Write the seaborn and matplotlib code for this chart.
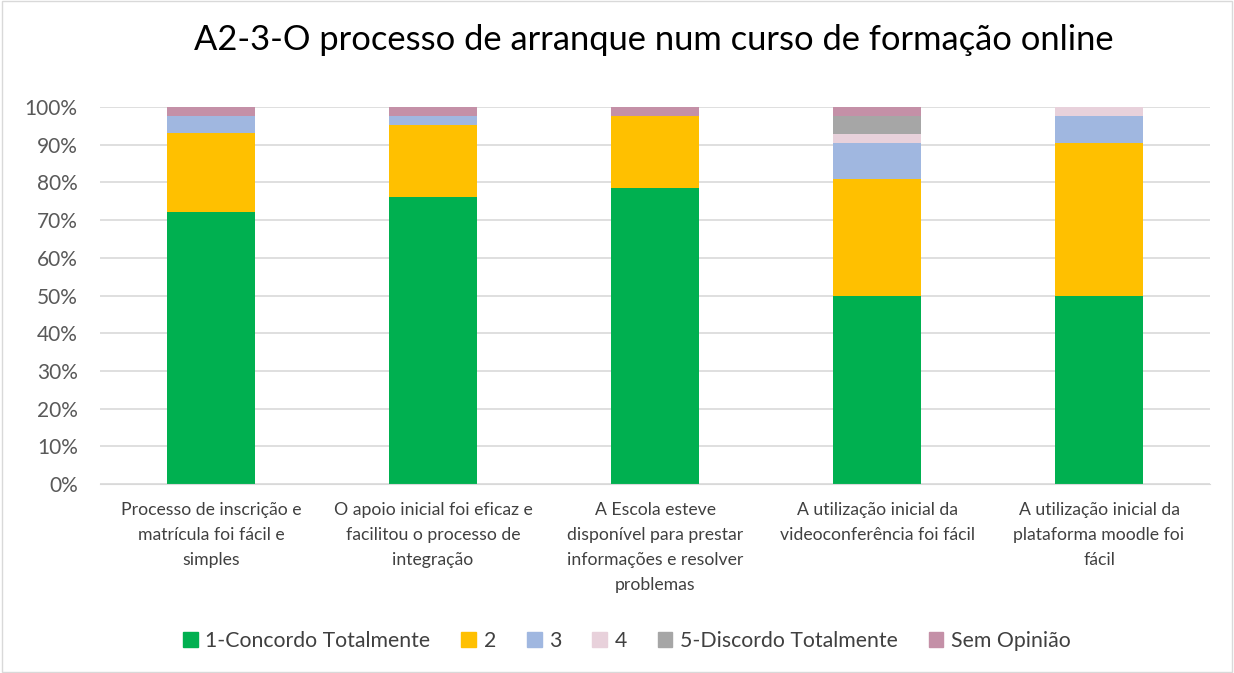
import numpy as np
import pandas as pd
import matplotlib
matplotlib.use("Agg")
import matplotlib.pyplot as plt
from matplotlib.patches import Rectangle, Patch
import seaborn as sns

# data (percent of answers per question)
categories = ["Processo de inscrição e\nmatrícula foi fácil e\nsimples",
              "O apoio inicial foi eficaz e\nfacilitou o processo de\nintegração",
              "A Escola esteve\ndisponível para prestar\ninformações e resolver\nproblemas",
              "A utilização inicial da\nvideoconferência foi fácil",
              "A utilização inicial da\nplataforma moodle foi\nfácil"]
series_names = ["1-Concordo Totalmente", "2", "3", "4", "5-Discordo Totalmente", "Sem Opinião"]
concordo_total = [72.1, 76.2, 78.6, 50.0, 50.0]
nivel_2 = [20.9, 19.0, 19.0, 31.0, 40.5]
nivel_3 = [4.7, 2.4, 0.0, 9.5, 7.1]
nivel_4 = [0.0, 0.0, 0.0, 2.4, 2.4]
discordo_total = [0.0, 0.0, 0.0, 4.8, 0.0]
sem_opiniao = [2.3, 2.4, 2.4, 2.4, 0.0]
colors = ["#00B050", "#FFC000", "#A0B7E0", "#E8D1DB", "#A6A6A6", "#C490A7"]

sns.set_style("white")
plt.rcParams['font.family'] = ['Lato', 'DejaVu Sans']

df = pd.DataFrame({"cat": categories})
vals = [concordo_total, nivel_2, nivel_3, nivel_4, discordo_total, sem_opiniao]
cum = np.cumsum(np.array(vals), axis=0)

fig = plt.figure(figsize=(12.34, 6.73), dpi=100)
ax = fig.add_axes([0.081, 0.2808, 0.8996, 0.5602])

# stacked bars: draw cumulative totals from top to bottom
for i in range(len(series_names) - 1, -1, -1):
    df["v"] = cum[i]
    sns.barplot(data=df, x="cat", y="v", color=colors[i], width=0.4,
                saturation=1, ax=ax, zorder=2, linewidth=0)

ax.set_ylim(0, 100)
ax.set_xlim(-0.5, 4.5)
ax.set_yticks(np.arange(0, 101, 10))
ax.set_yticklabels([f"{t}%" for t in range(0, 101, 10)], fontsize=15, color="#595959")
ax.set_xticks(range(5))
ax.set_xticklabels(categories, fontsize=12.7, color="#404040", linespacing=1.68)
ax.tick_params(axis="y", length=0, pad=16)
ax.tick_params(axis="x", length=0, pad=13)
ax.yaxis.grid(True, color="#D9D9D9", lw=1.2, zorder=0)
ax.set_axisbelow(True)
ax.set_xlabel("")
ax.set_ylabel("")
for s in ax.spines.values():
    s.set_visible(False)
ax.spines["bottom"].set_visible(True)
ax.spines["bottom"].set_color("#D9D9D9")

fig.text(0.530, 0.94, "A2-3-O processo de arranque num curso de formação online",
         ha="center", va="center", fontsize=24.8, color="#000000")

handles = [Patch(color=c, label=n) for c, n in zip(colors, series_names)]
fig.legend(handles=handles, loc="center", bbox_to_anchor=(0.508, 0.047), ncol=6,
           frameon=False, fontsize=15.3, handlelength=0.7, handleheight=0.7,
           columnspacing=1.45, handletextpad=0.35, labelcolor="#404040")

fig.patches.append(Rectangle((0.002, 0.002), 0.996, 0.996, transform=fig.transFigure,
                             fill=False, edgecolor="#D9D9D9", lw=1))

fig.savefig("out.png", dpi=100)
